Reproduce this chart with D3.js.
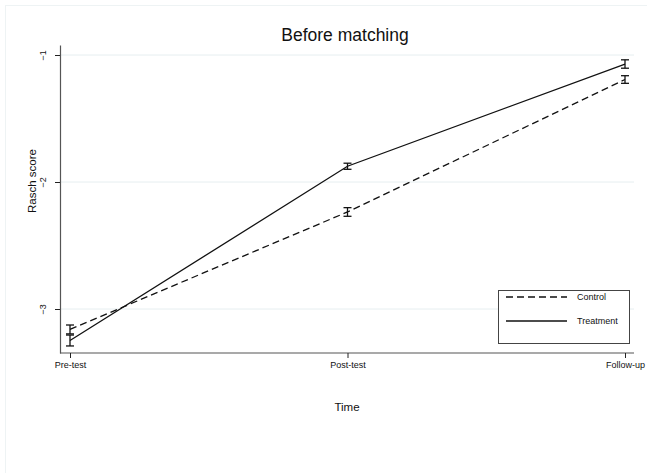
<!DOCTYPE html>
<html>
<head>
<meta charset="utf-8">
<script src="https://cdn.jsdelivr.net/npm/d3@7"></script>
<style>
  body { margin: 0; background: #fff; }
  text { font-family: "Liberation Sans", Arial, sans-serif; fill: #111; }
</style>
</head>
<body>
<div id="chart"></div>
<script>
// Data
const timePoints = ["Pre-test", "Post-test", "Follow-up"];
const yTicks = [-1, -2, -3];
const controlMean = [-3.161, -2.236, -1.193];
const controlLow = [-3.196, -2.270, -1.223];
const controlHigh = [-3.126, -2.202, -1.163];
const treatMean = [-3.248, -1.876, -1.071];
const treatLow = [-3.291, -1.900, -1.104];
const treatHigh = [-3.205, -1.852, -1.038];
const seriesNames = ["Control", "Treatment"];

const width = 647;
const height = 473;
const plot = {left: 60, right: 634, top: 45, bottom: 353};
const gridColor = "#e6eef0";
const axisColor = "#555";

const svg = d3.select("#chart")
    .append("svg")
    .attr("width", width)
    .attr("height", height);

// outer graph region frame
svg.append("rect")
    .attr("x", 5.5).attr("y", 5.5)
    .attr("width", width + 20).attr("height", height + 20)
    .attr("fill", "none")
    .attr("stroke", "#eef3f4");

const xScale = d3.scalePoint()
    .domain(timePoints)
    .range([70, 625]);

// -1 sits at y=55, -3 at y=309
const yScale = d3.scaleLinear()
    .domain([-1, -3])
    .range([55, 309]);
const yFull = yScale.copy().domain([yScale.invert(plot.top), yScale.invert(plot.bottom)])
    .range([plot.top, plot.bottom]);

// gridlines
svg.append("g")
    .selectAll("line")
    .data(yTicks)
    .join("line")
    .attr("x1", plot.left).attr("x2", plot.right)
    .attr("y1", d => yFull(d)).attr("y2", d => yFull(d))
    .attr("stroke", gridColor)
    .attr("stroke-width", 1);

// y axis
const yAxis = svg.append("g")
    .attr("transform", `translate(${plot.left},0)`)
    .call(d3.axisLeft(yFull).tickValues(yTicks).tickFormat(d3.format("d")).tickSize(5).tickSizeOuter(0));
yAxis.select(".domain").attr("stroke", axisColor).attr("stroke-width", 1.2);
yAxis.selectAll(".tick line").attr("stroke", "#222");
yAxis.selectAll(".tick text")
    .attr("font-size", 9)
    .attr("transform", "rotate(-90)")
    .attr("x", 0).attr("y", -14)
    .attr("dy", 0)
    .attr("text-anchor", "middle")
    .style("font-family", "Liberation Sans, Arial, sans-serif");

// x axis
const xAxis = svg.append("g")
    .attr("transform", `translate(0,${plot.bottom})`)
    .call(d3.axisBottom(xScale).tickSize(5).tickSizeOuter(0));
xAxis.select(".domain")
    .attr("d", `M${plot.left},0H${plot.right}`)
    .attr("stroke", axisColor).attr("stroke-width", 1.2);
xAxis.selectAll(".tick line").attr("stroke", "#222");
xAxis.selectAll(".tick text")
    .attr("font-size", 9)
    .attr("y", 9)
    .style("font-family", "Liberation Sans, Arial, sans-serif");

// lines
const line = d3.line()
    .x((d, i) => xScale(timePoints[i]))
    .y(d => yFull(d));

const series = [
    {name: "Control", mean: controlMean, low: controlLow, high: controlHigh, dash: "7,4"},
    {name: "Treatment", mean: treatMean, low: treatLow, high: treatHigh, dash: null}
];

for (const s of series) {
    svg.append("path")
        .datum(s.mean)
        .attr("fill", "none")
        .attr("stroke", "#111")
        .attr("stroke-width", 1.3)
        .attr("stroke-dasharray", s.dash)
        .attr("d", line);

    const bars = svg.append("g").attr("stroke", "#111").attr("stroke-width", 1.3);
    s.mean.forEach((m, i) => {
        const x = xScale(timePoints[i]);
        bars.append("line")
            .attr("x1", x).attr("x2", x)
            .attr("y1", yFull(s.low[i])).attr("y2", yFull(s.high[i]));
        bars.append("line")
            .attr("x1", x - 4).attr("x2", x + 4)
            .attr("y1", yFull(s.low[i])).attr("y2", yFull(s.low[i]));
        bars.append("line")
            .attr("x1", x - 4).attr("x2", x + 4)
            .attr("y1", yFull(s.high[i])).attr("y2", yFull(s.high[i]));
    });
}

// legend
const legend = svg.append("g").attr("transform", "translate(498,290)");
legend.append("rect")
    .attr("x", 0.5).attr("y", 0.5)
    .attr("width", 131).attr("height", 53)
    .attr("fill", "#fff")
    .attr("stroke", "#444");
series.forEach((s, i) => {
    const ly = 6 + i * 24 + 1;
    legend.append("line")
        .attr("x1", 8).attr("x2", 69)
        .attr("y1", ly).attr("y2", ly)
        .attr("stroke", "#111")
        .attr("stroke-width", 1.3)
        .attr("stroke-dasharray", s.dash);
    legend.append("text")
        .attr("x", 79).attr("y", ly + 3)
        .attr("font-size", 9)
        .text(seriesNames[i]);
});

// titles
svg.append("text")
    .attr("x", 345)
    .attr("y", 41)
    .attr("text-anchor", "middle")
    .attr("font-size", 17.5)
    .text("Before matching");

svg.append("text")
    .attr("x", (plot.left + plot.right) / 2)
    .attr("y", 411)
    .attr("text-anchor", "middle")
    .attr("font-size", 11.5)
    .text("Time");

svg.append("text")
    .attr("transform", `translate(36,${(plot.top + plot.bottom) / 2 - 18}) rotate(-90)`)
    .attr("text-anchor", "middle")
    .attr("font-size", 11.5)
    .text("Rasch score");
</script>
</body>
</html>
